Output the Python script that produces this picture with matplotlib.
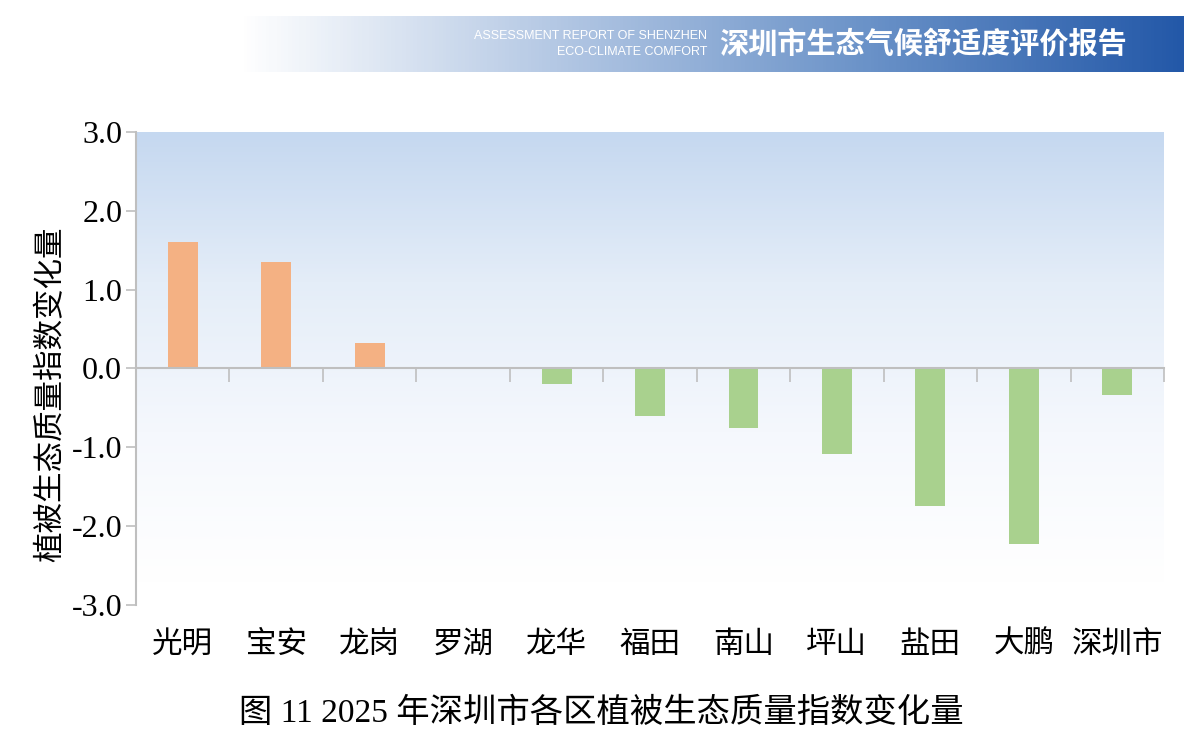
import matplotlib
matplotlib.use('Agg')
import matplotlib.pyplot as plt
import matplotlib.transforms as mtransforms
from matplotlib.colors import LinearSegmentedColormap
import numpy as np

# district names and vegetation index change
districts = ['光明', '宝安', '龙岗', '罗湖', '龙华', '福田', '南山', '坪山', '盐田', '大鹏', '深圳市']
changes = [1.60, 1.35, 0.32, 0.0, -0.20, -0.60, -0.75, -1.08, -1.74, -2.23, -0.34]
yticks = [-3.0, -2.0, -1.0, 0.0, 1.0, 2.0, 3.0]

cjk = ['Noto Sans CJK SC', 'DejaVu Sans']
serif_mix = ['Liberation Serif', 'Noto Sans CJK SC']
pos_color = '#f4b183'
neg_color = '#a9d18e'
grid_gray = '#bfbfbf'

fig = plt.figure(figsize=(11.84, 7.52), dpi=100)
ax = fig.add_axes([0.1149, 0.1955, 0.8682, 0.629])

# header banner with white -> blue gradient
hax = fig.add_axes([240 / 1184, 1 - 72 / 752, 944 / 1184, 56 / 752])
banner = LinearSegmentedColormap.from_list('banner', ['#ffffff', '#b4c8e4', '#6a92c8', '#2358a8'])
hax.imshow(np.linspace(0, 1, 256).reshape(1, -1), cmap=banner, aspect='auto', extent=[0, 1, 0, 1])
hax.set_axis_off()
hax.text(0.495, 0.64, 'ASSESSMENT REPORT OF SHENZHEN', color='white', fontsize=9,
         ha='right', va='center', family='Liberation Sans', transform=hax.transAxes)
hax.text(0.495, 0.36, 'ECO-CLIMATE COMFORT', color='white', fontsize=9,
         ha='right', va='center', family='Liberation Sans', transform=hax.transAxes)
hax.text(0.508, 0.5, '深圳市生态气候舒适度评价报告', color='white', fontsize=21,
         fontweight='bold', ha='left', va='center', family=cjk, transform=hax.transAxes)

# plot background gradient
bg = LinearSegmentedColormap.from_list('bg', ['#ffffff', '#f5f8fd', '#e4edf8', '#c5d8f0'])
grad = np.concatenate([np.zeros(12), np.linspace(0, 1, 244)]).reshape(-1, 1)
ax.imshow(grad, cmap=bg, aspect='auto', extent=[0, 1, 0, 1], origin='lower',
          transform=ax.transAxes, zorder=0)

x = np.arange(len(districts))
colors = [pos_color if v >= 0 else neg_color for v in changes]
ax.bar(x, changes, width=0.32, color=colors, zorder=2)

ax.set_xlim(-0.5, len(districts) - 0.5)
ax.set_ylim(-3, 3)
ax.set_yticks(yticks)
ax.set_yticklabels([f'{v:.1f}' for v in yticks], family='Liberation Serif', fontsize=23)
ax.tick_params(axis='y', direction='out', length=7, color=grid_gray, width=1.2, pad=3)

for s in ['top', 'right']:
    ax.spines[s].set_visible(False)
ax.spines['left'].set_color(grid_gray)
ax.spines['left'].set_linewidth(1.5)
ax.spines['bottom'].set_position(('data', 0))
ax.spines['bottom'].set_color(grid_gray)
ax.spines['bottom'].set_linewidth(1.5)
ax.spines['bottom'].set_zorder(3)

ax.set_xticks(np.arange(len(districts) + 1) - 0.5)
ax.set_xticklabels([])
ax.tick_params(axis='x', direction='out', length=10, color=grid_gray, width=1.2)

trans = mtransforms.blended_transform_factory(ax.transData, ax.transAxes)
for i, name in enumerate(districts):
    ax.text(i, -0.083, name, transform=trans, ha='center', va='center',
            fontsize=22, family=cjk)

ax.set_ylabel('植被生态质量指数变化量', family=cjk, fontsize=22)
ax.yaxis.set_label_coords(-0.0675, 0.446)

fig.text(0.5075, 0.051, '图 11 2025 年深圳市各区植被生态质量指数变化量',
         ha='center', va='center', fontsize=24, family=serif_mix)

fig.savefig('out.png', dpi=100)
